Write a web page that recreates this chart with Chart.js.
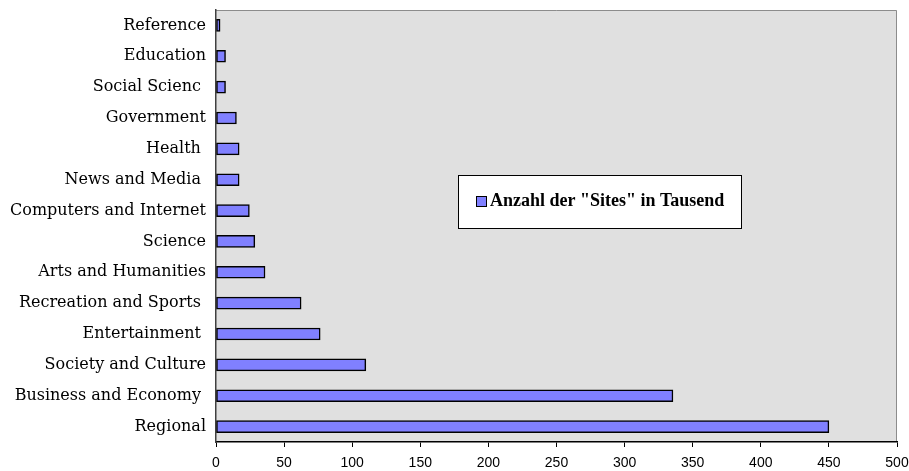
<!DOCTYPE html>
<html>
<head>
<meta charset="utf-8">
<script src="https://cdn.jsdelivr.net/npm/chart.js@4.4.1/dist/chart.umd.min.js"></script>
<style>
	html, body { margin: 0; padding: 0; background: #ffffff; }
	#wrap { width: 909px; height: 471px; }
</style>
</head>
<body>
<div id="wrap"><canvas id="sitesChart"></canvas></div>
<script>
	// categories, top to bottom as in the picture (trailing blanks kept as in the source)
	var categories = [
		'Reference', 'Education', 'Social Scienc ', 'Government', 'Health ',
		'News and Media ', 'Computers and Internet', 'Science', 'Arts and Humanities',
		'Recreation and Sports ', 'Entertainment ', 'Society and Culture',
		'Business and Economy ', 'Regional'
	];
	var sitesInThousand = [3, 7, 7, 15, 17, 17, 24.5, 28.5, 36, 62.5, 76.5, 110, 335.5, 450];
	var xTicks = [0, 50, 100, 150, 200, 250, 300, 350, 400, 450, 500];
	var seriesLabel = 'Anzahl der "Sites" in Tausend';

	var plotBackground = {
		id: 'plotBackground',
		beforeDraw: function (chart) {
			var a = chart.chartArea;
			var ctx = chart.ctx;
			ctx.save();
			ctx.fillStyle = '#e0e0e0';
			ctx.fillRect(a.left, a.top, a.right - a.left, a.bottom - a.top);
			ctx.strokeStyle = '#8c8c8c';
			ctx.lineWidth = 1;
			ctx.beginPath();
			ctx.moveTo(a.left, a.top + 0.5);
			ctx.lineTo(a.right - 0.5, a.top + 0.5);
			ctx.lineTo(a.right - 0.5, a.bottom);
			ctx.stroke();
			ctx.restore();
		}
	};

	var boxLegend = {
		id: 'boxLegend',
		afterDraw: function (chart) {
			var ctx = chart.ctx;
			var ds = chart.data.datasets[0];
			ctx.save();
			ctx.fillStyle = '#ffffff';
			ctx.fillRect(458, 175, 283, 53);
			ctx.strokeStyle = '#000000';
			ctx.lineWidth = 1;
			ctx.strokeRect(458.5, 175.5, 283, 53);
			ctx.fillStyle = ds.backgroundColor;
			ctx.fillRect(476, 196, 10, 10);
			ctx.strokeRect(476.5, 196.5, 10, 10);
			ctx.fillStyle = '#000000';
			ctx.font = 'bold 18px "Liberation Serif"';
			ctx.textBaseline = 'middle';
			ctx.fillText(ds.label, 490, 201);
			ctx.restore();
		}
	};

	new Chart(document.getElementById('sitesChart'), {
		type: 'bar',
		data: {
			labels: categories,
			datasets: [{
				label: seriesLabel,
				data: sitesInThousand,
				backgroundColor: '#8080ff',
				borderColor: '#000000',
				borderWidth: 1.5,
				borderSkipped: false,
				barThickness: 12
			}]
		},
		options: {
			indexAxis: 'y',
			responsive: true,
			maintainAspectRatio: false,
			animation: false,
			layout: { padding: { top: 10, right: 12, left: 0, bottom: 0 } },
			plugins: {
				legend: { display: false },
				tooltip: { enabled: false }
			},
			scales: {
				x: {
					min: 0,
					max: 500,
					afterBuildTicks: function (scale) {
						scale.ticks = xTicks.map(function (v) { return { value: v }; });
					},
					afterFit: function (scale) {
						scale.height = 29;
						scale.paddingLeft = 0;
						scale.paddingRight = 0;
					},
					grid: {
						display: true,
						drawOnChartArea: false,
						drawTicks: true,
						tickLength: 5,
						color: '#000000'
					},
					border: { display: true, color: '#000000', width: 1.5 },
					ticks: {
						color: '#000000',
						padding: 8,
						maxRotation: 0,
						font: { family: '"Liberation Sans"', size: 14 }
					}
				},
				y: {
					afterFit: function (scale) {
						scale.width = 216;
						scale.paddingTop = 0;
						scale.paddingBottom = 0;
					},
					grid: { display: false, drawTicks: false },
					border: { display: true, color: '#404040', width: 1.5 },
					ticks: {
						color: '#000000',
						padding: 10,
						font: { family: '"DejaVu Serif"', size: 16 }
					}
				}
			}
		},
		plugins: [plotBackground, boxLegend]
	});
</script>
</body>
</html>
